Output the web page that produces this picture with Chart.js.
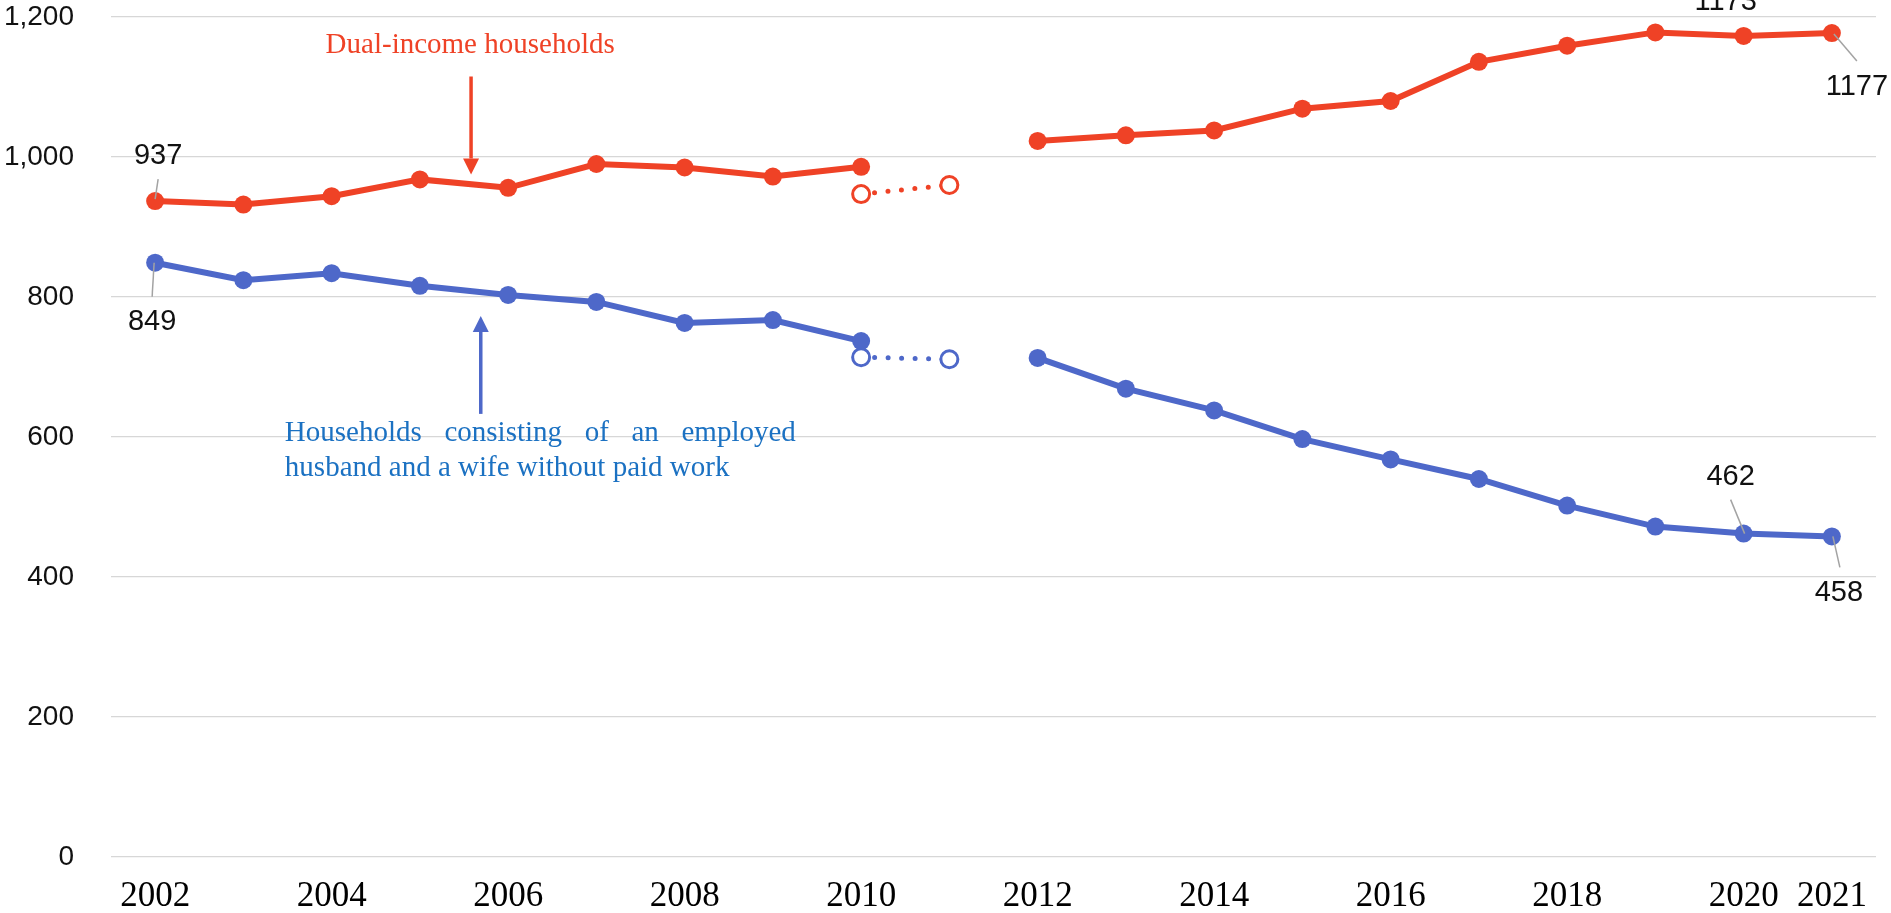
<!DOCTYPE html>
<html>
<head>
<meta charset="utf-8">
<script src="https://cdn.jsdelivr.net/npm/chart.js@4/dist/chart.umd.min.js"></script>
<style>
  html, body { margin: 0; padding: 0; background: #fff; }
  canvas { display: block; }
</style>
</head>
<body>
<canvas id="householdChart" width="1891" height="913"></canvas>
<script>
// Años y series (10 mil hogares)
const years = ['2002', '2003', '2004', '2005', '2006', '2007', '2008', '2009', '2010', '2011',
               '2012', '2013', '2014', '2015', '2016', '2017', '2018', '2019', '2020', '2021'];
const dualIncome = [937, 932, 944, 968, 956, 990, 985, 972, 986, null,
                    1023, 1031, 1038, 1069, 1080, 1136, 1159, 1178, 1173, 1177];
const singleIncome = [849, 824, 834, 816, 803, 793, 763, 767, 737, null,
                      713, 669, 638, 597, 568, 540, 502, 472, 462, 458];
// valores estimados 2010-2011 (sin Iwate, Miyagi, Fukushima)
const dualEstimate = [null, null, null, null, null, null, null, null, 947, 960,
                      null, null, null, null, null, null, null, null, null, null];
const singleEstimate = [null, null, null, null, null, null, null, null, 714, 711,
                        null, null, null, null, null, null, null, null, null, null];
const shownYears = ['2002', '2004', '2006', '2008', '2010', '2012', '2014', '2016', '2018', '2020', '2021'];
const yTicks = [0, 200, 400, 600, 800, 1000, 1200];

const RED = '#ef4226';
const BLUE = '#4e68c9';

// etiquetas de valor con línea guía
const valueLabels = [
    { ds: 0, year: '2002', dx: 3, dy: -45, lead: [3, -22, 0, -2] },
    { ds: 1, year: '2002', dx: -3, dy: 59, lead: [-1, 0, -3, 34] },
    { ds: 0, year: '2020', dx: -18, dy: -34, lead: null },
    { ds: 0, year: '2021', dx: 25, dy: 54, lead: [2, 1, 25, 28] },
    { ds: 1, year: '2020', dx: -13, dy: -57, lead: [-13, -34, 1, 0] },
    { ds: 1, year: '2021', dx: 7, dy: 57, lead: [1, 0, 8, 31] }
];

const labelPlugin = {
    id: 'valueLabels',
    afterDatasetsDraw(chart) {
        const ctx = chart.ctx;
        const xs = chart.scales.x, ys = chart.scales.y;
        ctx.save();
        ctx.font = '29px "Liberation Sans", Arial, sans-serif';
        ctx.textAlign = 'center';
        ctx.textBaseline = 'middle';
        valueLabels.forEach(l => {
            const i = years.indexOf(l.year);
            const v = chart.data.datasets[l.ds].data[i];
            const px = xs.getPixelForValue(i);
            const py = ys.getPixelForValue(v);
            if (l.lead) {
                ctx.strokeStyle = '#a3a3a3';
                ctx.lineWidth = 1.5;
                ctx.beginPath();
                ctx.moveTo(px + l.lead[0], py + l.lead[1]);
                ctx.lineTo(px + l.lead[2], py + l.lead[3]);
                ctx.stroke();
            }
            ctx.fillStyle = '#111';
            ctx.fillText(String(v), px + l.dx, py + l.dy);
        });
        ctx.restore();
    }
};

function arrow(ctx, x, y0, y1, color) {
    const dir = y1 > y0 ? 1 : -1;
    const head = 16;
    ctx.strokeStyle = color;
    ctx.fillStyle = color;
    ctx.lineWidth = 3.5;
    ctx.beginPath();
    ctx.moveTo(x, y0);
    ctx.lineTo(x, y1 - dir * head);
    ctx.stroke();
    ctx.beginPath();
    ctx.moveTo(x, y1);
    ctx.lineTo(x - 8, y1 - dir * head);
    ctx.lineTo(x + 8, y1 - dir * head);
    ctx.closePath();
    ctx.fill();
}

const notePlugin = {
    id: 'notes',
    afterDraw(chart) {
        const ctx = chart.ctx;
        const xs = chart.scales.x, ys = chart.scales.y;
        ctx.save();
        // Dual-income households
        ctx.font = '29px "Liberation Serif", "Times New Roman", serif';
        ctx.fillStyle = RED;
        ctx.textAlign = 'center';
        ctx.textBaseline = 'alphabetic';
        ctx.fillText('Dual-income households', xs.getPixelForValue(3.57), ys.getPixelForValue(1148));
        arrow(ctx, xs.getPixelForValue(3.58), ys.getPixelForValue(1115), ys.getPixelForValue(975), RED);

        // Households consisting of ...
        arrow(ctx, xs.getPixelForValue(3.69), ys.getPixelForValue(633), ys.getPixelForValue(773), BLUE);
        ctx.font = '29px "Liberation Serif", "Times New Roman", serif';
        ctx.fillStyle = '#1b71c2';
        ctx.textAlign = 'left';
        const left = xs.getPixelForValue(1.47), right = xs.getPixelForValue(7.26);
        const words = 'Households consisting of an employed'.split(' ');
        const widths = words.map(w => ctx.measureText(w).width);
        const gap = (right - left - widths.reduce((a, b) => a + b, 0)) / (words.length - 1);
        let x = left;
        const y1 = ys.getPixelForValue(594);
        words.forEach((w, k) => { ctx.fillText(w, x, y1); x += widths[k] + gap; });
        ctx.fillText('husband and a wife without paid work', left, ys.getPixelForValue(544));
        ctx.restore();
    }
};

const ctx = document.getElementById('householdChart').getContext('2d');
new Chart(ctx, {
    type: 'line',
    data: {
        labels: years,
        datasets: [{
            label: 'Dual-income households',
            data: dualIncome,
            borderColor: RED,
            backgroundColor: RED,
            borderWidth: 6,
            pointRadius: 9,
            pointBorderWidth: 0,
            pointBackgroundColor: RED
        }, {
            label: 'Households consisting of an employed husband and a wife without paid work',
            data: singleIncome,
            borderColor: BLUE,
            backgroundColor: BLUE,
            borderWidth: 6,
            pointRadius: 9,
            pointBorderWidth: 0,
            pointBackgroundColor: BLUE
        }, {
            label: 'estimate dual',
            data: dualEstimate,
            borderColor: RED,
            borderWidth: 5,
            borderDash: [0, 13.5],
            borderCapStyle: 'round',
            pointRadius: 8.5,
            pointBorderWidth: 3,
            pointBorderColor: RED,
            pointBackgroundColor: '#fff'
        }, {
            label: 'estimate single',
            data: singleEstimate,
            borderColor: BLUE,
            borderWidth: 5,
            borderDash: [0, 13.5],
            borderCapStyle: 'round',
            pointRadius: 8.5,
            pointBorderWidth: 3,
            pointBorderColor: BLUE,
            pointBackgroundColor: '#fff'
        }]
    },
    options: {
        responsive: false,
        animation: false,
        devicePixelRatio: 1,
        layout: { padding: { top: 17, right: 15, left: 0, bottom: 0 } },
        plugins: {
            legend: { display: false },
            tooltip: { enabled: false }
        },
        scales: {
            x: {
                offset: true,
                grid: { display: false },
                border: { display: false },
                afterFit: s => { s.height = 56; s.paddingLeft = 0; s.paddingRight = 0; },
                ticks: {
                    autoSkip: false,
                    maxRotation: 0,
                    padding: 11,
                    color: '#000',
                    font: { family: '"Liberation Serif", "Times New Roman", serif', size: 35 },
                    callback: function (value) {
                        const y = this.getLabelForValue(value);
                        return shownYears.includes(y) ? y : '';
                    }
                }
            },
            y: {
                min: yTicks[0],
                max: yTicks[yTicks.length - 1],
                afterFit: s => { s.width = 111; s.paddingTop = 0; s.paddingBottom = 0; },
                afterBuildTicks: s => { s.ticks = yTicks.map(v => ({ value: v })); },
                border: { display: false },
                grid: { color: '#d7d7d7', lineWidth: 1.3, drawTicks: false },
                ticks: {
                    padding: 37,
                    color: '#111',
                    font: { family: '"Liberation Sans", Arial, sans-serif', size: 28 },
                    callback: v => v.toLocaleString('en-US')
                }
            }
        }
    },
    plugins: [labelPlugin, notePlugin]
});
</script>
</body>
</html>
